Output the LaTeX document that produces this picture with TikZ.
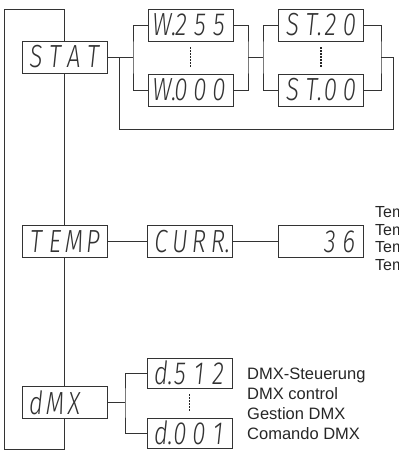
\documentclass[tikz,border=0pt]{standalone}
\usepackage{fontspec}
\setmainfont{Liberation Sans}
\newfontfamily\segfont[FakeStretch=0.75]{Fira Sans Light Italic}
\newcommand\sg[1]{\makebox[19pt]{#1}}
\newcommand\sgd[1]{\makebox[19pt]{#1\rlap{.}}}
\tikzset{
  disp/.style={draw=black!80, fill=white, line width=0.9pt, minimum width=85pt,
    minimum height=32pt, inner sep=0pt, text=black!80,
    font=\segfont\fontsize{32}{32}\selectfont},
  wire/.style={draw=black!80, line width=0.9pt},
  dotline/.style={draw=black!85, line width=1.3pt, dash pattern=on 1.3pt off 1.7pt},
  lbl/.style={anchor=base west, inner sep=0pt, text=black!85,
    font=\fontsize{16.5}{20}\selectfont},
  lblb/.style={anchor=base west, inner sep=0pt, text=black!85,
    font=\fontsize{16}{18}\selectfont}
}
\begin{document}
\begin{tikzpicture}[x=1pt,y=-1pt]
\useasboundingbox (0,0) rectangle (399,453);
\clip (0,0) rectangle (399,453);
% frame
\draw[wire] (4,9) rectangle (64,449);
% STAT row
\node[disp] (stat) at (64.5,57) {\sg{S}\sg{T}\sg{A}\sg{T}};
\node[disp] (w255) at (190.5,25) {\sgd{W}\sg{2}\sg{5}\sg{5}};
\node[disp] (w000) at (190.5,90) {\sgd{W}\sg{0}\sg{0}\sg{0}};
\node[disp] (st20) at (321,25) {\sg{S}\sgd{T}\sg{2}\sg{0}};
\node[disp] (st00) at (321,90) {\sg{S}\sgd{T}\sg{0}\sg{0}};
\coordinate (j1) at (133,57);
\coordinate (j2) at (248,57);
\coordinate (j3) at (263,57);
\coordinate (j4) at (381,57);
\coordinate (j5) at (119,57);
\coordinate (c1) at (393,129);
\draw[wire] (stat.east) -- (j1);
\draw[wire] (w255.west) -| (j1) |- (w000.west);
\draw[wire] (w255.east) -| (j2) |- (w000.east);
\draw[wire] (j2) -- (j3);
\draw[wire] (st20.west) -| (j3) |- (st00.west);
\draw[wire] (st20.east) -| (j4) |- (st00.east);
\draw[wire] (j4) -| (c1) -| (j5);
\draw[dotline] ([yshift=-6pt]w255.south) -- ([yshift=6pt]w000.north);
\draw[dotline] ([yshift=-6pt]st20.south) -- ([yshift=6pt]st00.north);
% TEMP row
\node[disp] (temp) at (64.5,241.5) {\sg{T}\sg{E}\sg{M}\sg{P}};
\node[disp] (curr) at (189.5,241.5) {\sg{C}\sg{U}\sg{R}\sgd{R}};
\node[disp] (t36) at (320.5,241.5) {\sg{}\sg{}\sg{3}\sg{6}};
\draw[wire] (temp) -- (curr);
\draw[wire] (curr) -- (t36);
\node[lblb] (tl1) at (375,217.5) {Temperatur};
\node[lblb] (tl2) at (375,235) {Temperature};
\node[lblb] (tl3) at (375,252.5) {Température};
\node[lblb] (tl4) at (375,270) {Temperatura};
% DMX row
\node[disp] (dmx) at (64.5,402.5) {\sg{d}\sg{M}\sg{X}\sg{}};
\node[disp, minimum height=30pt] (d512) at (189.5,373) {\sgd{d}\sg{5}\sg{1}\sg{2}};
\node[disp, minimum height=30pt] (d001) at (189.5,433) {\sgd{d}\sg{0}\sg{0}\sg{1}};
\coordinate (j6) at (125,402.5);
\draw[wire] (dmx.east) -- (j6);
\draw[wire] (d512.west) -| (j6) |- (d001.west);
\draw[dotline] ([yshift=-6pt]d512.south) -- ([yshift=6pt]d001.north);
\node[lbl] (g1) at (247,379) {DMX-Steuerung};
\node[lbl] (g2) at (247,399) {DMX control};
\node[lbl] (g3) at (247,419) {Gestion DMX};
\node[lbl] (g4) at (247,439) {Comando DMX};
\end{tikzpicture}
\end{document}
